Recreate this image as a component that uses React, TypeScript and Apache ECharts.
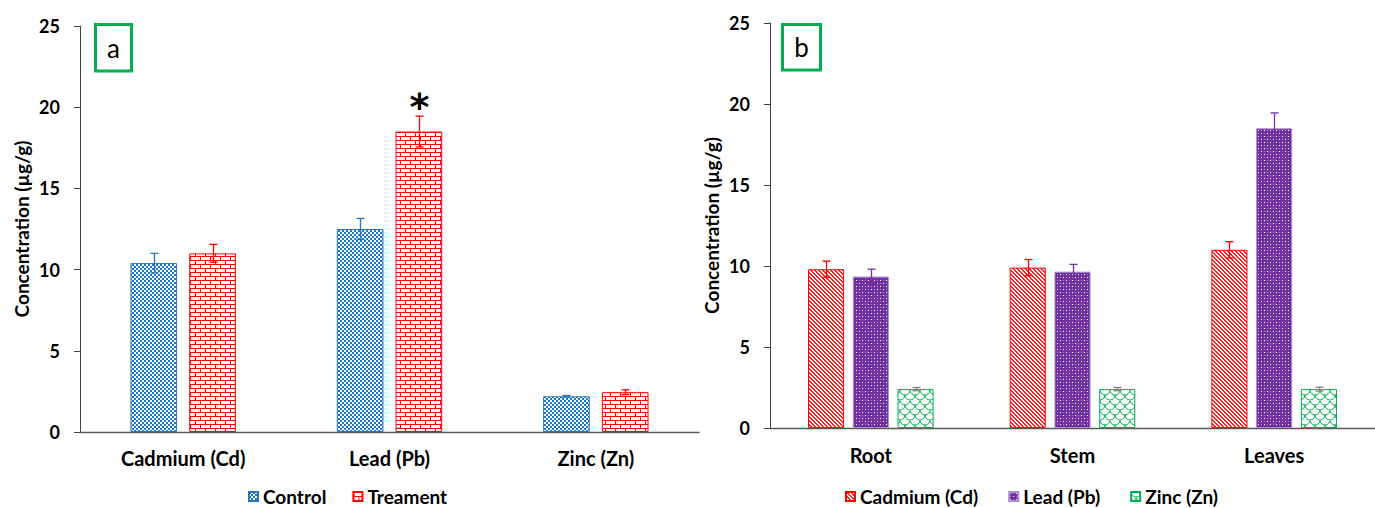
import React, { useEffect, useRef } from 'react';
import * as echarts from 'echarts';

// ---------- Panel a data ----------
const elementCategories = ['Cadmium (Cd)', 'Lead (Pb)', 'Zinc (Zn)'];
const controlMeans = [10.4, 12.5, 2.2];
const controlErrors = [0.6, 0.65, 0.05];
const treatmentMeans = [11.0, 18.5, 2.45];
const treatmentErrors = [0.55, 0.95, 0.15];
const treatmentMarks = ['', '*', ''];

// ---------- Panel b data ----------
const organCategories = ['Root', 'Stem', 'Leaves'];
const cadmiumMeans = [9.8, 9.9, 11.0];
const cadmiumErrors = [0.5, 0.5, 0.5];
const leadMeans = [9.35, 9.65, 18.5];
const leadErrors = [0.45, 0.45, 0.95];
const zincMeans = [2.4, 2.4, 2.4];
const zincErrors = [0.1, 0.1, 0.12];

// ---------- axis ----------
const yMin = 0;
const yMax = 25;
const yInterval = 5;
const yAxisTitle = 'Concentration (µg/g)';
const panelLabels = ['a', 'b'];

const FONT = 'Lato';

function makePattern(w: number, h: number, draw: (ctx: CanvasRenderingContext2D) => void) {
  const c = document.createElement('canvas');
  c.width = w;
  c.height = h;
  const ctx = c.getContext('2d') as CanvasRenderingContext2D;
  ctx.fillStyle = '#ffffff';
  ctx.fillRect(0, 0, w, h);
  draw(ctx);
  return { image: c.toDataURL(), repeat: 'repeat', imageWidth: w, imageHeight: h } as any;
}

function errorRender(
  groupIdx: number,
  groupCount: number,
  widthFrac: number,
  gapFrac: number,
  color: string,
  marks?: string[]
) {
  return (params: any, api: any) => {
    const cat = api.value(0);
    const val = api.value(1);
    const err = api.value(2);
    const band = api.size([1, 0])[0];
    const w = band * widthFrac;
    const g = w * gapFrac;
    const total = groupCount * w + (groupCount - 1) * g;
    const off = -total / 2 + w / 2 + groupIdx * (w + g);
    const top = api.coord([cat, val + err]);
    const bot = api.coord([cat, val - err]);
    const x = Math.round(top[0] + off) + 0.5;
    const cap = 4;
    const style = { stroke: color, lineWidth: 1.3 };
    const children: any[] = [
      { type: 'line', shape: { x1: x, y1: top[1], x2: x, y2: bot[1] }, style },
      { type: 'line', shape: { x1: x - cap, y1: top[1], x2: x + cap, y2: top[1] }, style },
      { type: 'line', shape: { x1: x - cap, y1: bot[1], x2: x + cap, y2: bot[1] }, style },
    ];
    const m = marks ? marks[params.dataIndex] : '';
    if (m) {
      children.push({
        type: 'text',
        x: x,
        y: top[1] + 10,
        style: {
          text: m,
          fill: '#000',
          fontSize: 38,
          fontWeight: 'bold',
          fontFamily: 'DejaVu Sans',
          align: 'center',
          verticalAlign: 'bottom',
        },
      });
    }
    return { type: 'group', children };
  };
}

export default function App() {
  const ref = useRef<HTMLDivElement>(null);

  useEffect(() => {
    if (!ref.current) return;
    const chart = echarts.init(ref.current, undefined, { renderer: 'svg' });

    const blueDots = makePattern(4, 4, (ctx) => {
      ctx.fillStyle = '#1a78cc';
      ctx.fillRect(0, 0, 2, 2);
      ctx.fillRect(2, 2, 2, 2);
    });
    const redBrick = makePattern(10, 8, (ctx) => {
      ctx.fillStyle = '#ff0000';
      ctx.fillRect(0, 0, 10, 1);
      ctx.fillRect(0, 4, 10, 1);
      ctx.fillRect(0, 0, 1, 4);
      ctx.fillRect(5, 4, 1, 4);
    });
    const redDiag = makePattern(4, 4, (ctx) => {
      ctx.fillStyle = '#ff2020';
      for (let y = 0; y < 4; y++) {
        for (let x = 0; x < 4; x++) {
          if ((x - y + 8) % 4 < 2) ctx.fillRect(x, y, 1, 1);
        }
      }
    });
    const purpleDots = makePattern(6, 6, (ctx) => {
      ctx.fillStyle = '#7030a0';
      ctx.fillRect(0, 0, 6, 6);
      ctx.fillStyle = '#ffffff';
      ctx.fillRect(1, 1, 1, 1);
      ctx.fillRect(4, 4, 1, 1);
      ctx.fillStyle = '#a783c8';
      ctx.fillRect(4, 1, 1, 1);
      ctx.fillRect(1, 4, 1, 1);
    });
    const greenScales = makePattern(10, 10, (ctx) => {
      ctx.strokeStyle = '#00b050';
      ctx.lineWidth = 1;
      ctx.beginPath();
      ctx.arc(5, 0, 5, 0, Math.PI);
      ctx.stroke();
      ctx.beginPath();
      ctx.arc(0, 5, 5, 0, Math.PI);
      ctx.stroke();
      ctx.beginPath();
      ctx.arc(10, 5, 5, 0, Math.PI);
      ctx.stroke();
    });

    const textBase = { fontFamily: FONT, fontWeight: 'bold', color: '#000' };

    const makeYAxis = (gridIndex: number) => ({
      type: 'value',
      gridIndex,
      min: yMin,
      max: yMax,
      interval: yInterval,
      name: yAxisTitle,
      nameLocation: 'middle',
      nameGap: 49,
      nameRotate: 90,
      nameTextStyle: { ...textBase, fontSize: 19 },
      axisLine: { show: true, lineStyle: { color: '#404040', width: 1 } },
      axisTick: { show: true, length: 6, lineStyle: { color: '#404040' } },
      axisLabel: { ...textBase, fontSize: 18, margin: 20 },
      splitLine: { show: false },
    });

    const makeXAxis = (gridIndex: number, data: string[], margin: number) => ({
      type: 'category',
      gridIndex,
      data,
      axisLine: { show: true, lineStyle: { color: '#595959', width: 1.3 } },
      axisTick: { show: false },
      axisLabel: { ...textBase, fontSize: 20, margin },
      splitLine: { show: false },
    });

    const aW = 0.226, aG = 0.26;
    const bW = 0.179, bG = 0.24;

    const barSeries = (name: string, xi: number, values: number[], color: any, border: string, w: number, g: number) => ({
      type: 'bar',
      name,
      xAxisIndex: xi,
      yAxisIndex: xi,
      data: values,
      barWidth: (w * 100).toFixed(2) + '%',
      barGap: (g * 100).toFixed(0) + '%',
      itemStyle: { color, borderColor: border, borderWidth: 1 },
      emphasis: { disabled: true },
    });

    const errSeries = (name: string, xi: number, values: number[], errs: number[], render: any) => ({
      type: 'custom',
      name,
      xAxisIndex: xi,
      yAxisIndex: xi,
      z: 5,
      data: values.map((v, i) => [i, v, errs[i]]),
      encode: { x: 0, y: 1 },
      renderItem: render,
      silent: true,
    });

    const legendText = { ...textBase, fontSize: 19, lineHeight: 19 };

    const option: any = {
      animation: false,
      backgroundColor: '#ffffff',
      grid: [
        { left: 80, top: 26, width: 619, height: 406 },
        { left: 770, top: 23, width: 621, height: 405 },
      ],
      xAxis: [makeXAxis(0, elementCategories, 16), makeXAxis(1, organCategories, 17)],
      yAxis: [makeYAxis(0), makeYAxis(1)],
      legend: [
        {
          data: ['Control', 'Treament'],
          left: 248,
          top: 487,
          padding: 0,
          itemWidth: 9,
          itemHeight: 9,
          itemGap: 26,
          selectedMode: false,
          icon: 'rect',
          textStyle: legendText,
        },
        {
          data: ['Cadmium (Cd)', 'Lead (Pb)', 'Zinc (Zn)'],
          left: 845,
          top: 487,
          padding: 0,
          itemWidth: 9,
          itemHeight: 9,
          itemGap: 30,
          selectedMode: false,
          icon: 'rect',
          textStyle: legendText,
        },
      ],
      graphic: [
        {
          type: 'rect',
          shape: { x: 95.5, y: 24.5, width: 36, height: 46.5 },
          style: { fill: 'none', stroke: '#00b050', lineWidth: 3 },
        },
        {
          type: 'text',
          x: 113.5,
          y: 48,
          style: { text: panelLabels[0], fill: '#000', fontSize: 26, fontFamily: FONT, align: 'center', verticalAlign: 'middle' },
        },
        {
          type: 'rect',
          shape: { x: 782.5, y: 24.5, width: 38, height: 45.5 },
          style: { fill: 'none', stroke: '#00b050', lineWidth: 3 },
        },
        {
          type: 'text',
          x: 801.5,
          y: 47,
          style: { text: panelLabels[1], fill: '#000', fontSize: 26, fontFamily: FONT, align: 'center', verticalAlign: 'middle' },
        },
      ],
      series: [
        barSeries('Control', 0, controlMeans, blueDots, '#2e75b6', aW, aG),
        barSeries('Treament', 0, treatmentMeans, redBrick, '#ff0000', aW, aG),
        errSeries('ctrl-err', 0, controlMeans, controlErrors, errorRender(0, 2, aW, aG, '#2e75b6')),
        errSeries('trt-err', 0, treatmentMeans, treatmentErrors, errorRender(1, 2, aW, aG, '#ff0000', treatmentMarks)),
        barSeries('Cadmium (Cd)', 1, cadmiumMeans, redDiag, '#ff0000', bW, bG),
        barSeries('Lead (Pb)', 1, leadMeans, purpleDots, '#a98bcb', bW, bG),
        barSeries('Zinc (Zn)', 1, zincMeans, greenScales, '#00b050', bW, bG),
        errSeries('cd-err', 1, cadmiumMeans, cadmiumErrors, errorRender(0, 3, bW, bG, '#ff0000')),
        errSeries('pb-err', 1, leadMeans, leadErrors, errorRender(1, 3, bW, bG, '#7030a0')),
        errSeries('zn-err', 1, zincMeans, zincErrors, errorRender(2, 3, bW, bG, '#7f7f7f')),
      ],
    };

    chart.setOption(option);
    return () => chart.dispose();
  }, []);

  return (
    <div
      ref={ref}
      style={{ position: 'absolute', left: 0, top: 0, width: 1375, height: 508, background: '#fff' }}
    />
  );
}
